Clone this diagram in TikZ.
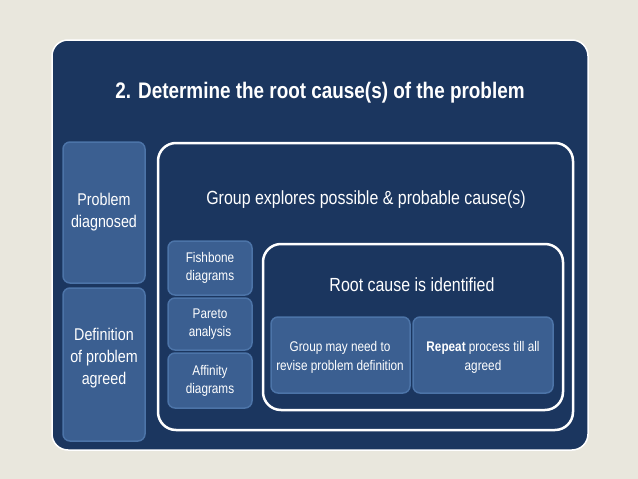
\documentclass[tikz,border=0pt]{standalone}
\usepackage{fontspec}
\setmainfont{Liberation Sans}[FakeStretch=0.84]
\definecolor{pageBg}{HTML}{E9E7DD}
\definecolor{panelBlue}{HTML}{1B365F}
\definecolor{boxBlue}{HTML}{3B5F91}
\definecolor{boxEdge}{HTML}{4C74A8}
\begin{document}
\begin{tikzpicture}[x=1pt,y=-1pt,%
  panelStyle/.style={fill=panelBlue,draw=white,line width=1.5pt,rounded corners=16pt},%
  frameStyle/.style={draw=white,line width=2.5pt,rounded corners=18pt},%
  boxStyle/.style={fill=boxBlue,draw=boxEdge,line width=1.5pt,rounded corners=7pt},%
  textStyle/.style={text=white,align=center,inner sep=0pt,font=#1}%
]
%
% Page and panel.
\fill[pageBg] (0,0) rectangle (638,479);
\draw[panelStyle] (52,40) rectangle (588,450);
\node[textStyle={\bfseries\fontsize{22.5}{26}\selectfont}] (title) at (320,93) {2. Determine the root cause(s) of the problem};
%
% Left column.
\draw[boxStyle] (63,142) rectangle (145,283);
\node[textStyle={\fontsize{17}{22}\selectfont}] (diagnosed) at (104,212) {Problem\\diagnosed};
\draw[boxStyle] (63,288) rectangle (145,441);
\node[textStyle={\fontsize{17}{22}\selectfont}] (agreed) at (104,358) {Definition\\of problem\\agreed};
%
% Outer frame: group explores causes.
\draw[frameStyle] (158,143) rectangle (573,430);
\node[textStyle={\fontsize{19}{22}\selectfont}] (explores) at (366,200) {Group explores possible \& probable cause(s)};
%
% Tools.
\draw[boxStyle] (168,241) rectangle (252,295);
\node[textStyle={\fontsize{14}{18}\selectfont}] (fishbone) at (210,268) {Fishbone\\diagrams};
\draw[boxStyle] (168,298) rectangle (252,350);
\node[textStyle={\fontsize{14}{18}\selectfont}] (pareto) at (210,324) {Pareto\\analysis};
\draw[boxStyle] (168,353) rectangle (252,408);
\node[textStyle={\fontsize{14}{18}\selectfont}] (affinity) at (210,381) {Affinity\\diagrams};
%
% Inner frame: root cause.
\draw[frameStyle] (263,244) rectangle (563,410);
\node[textStyle={\fontsize{19}{22}\selectfont}] (rootCause) at (412,285) {Root cause is identified};
\draw[boxStyle] (271,317) rectangle (410,393);
\node[textStyle={\fontsize{14}{19}\selectfont}] (revise) at (340,357) {Group may need to\\revise problem definition};
\draw[boxStyle] (413,317) rectangle (553,393);
\node[textStyle={\fontsize{14}{19}\selectfont}] (repeat) at (483,357) {\textbf{Repeat} process till all\\agreed};
\end{tikzpicture}
\end{document}
